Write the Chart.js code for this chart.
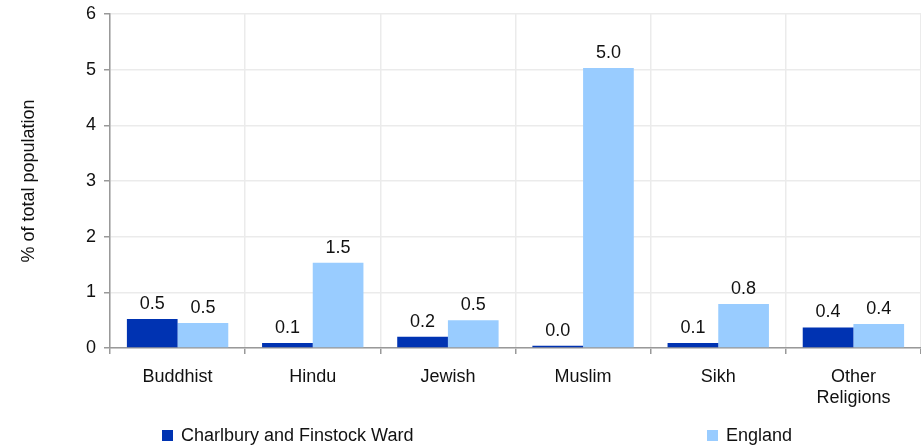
<!DOCTYPE html>
<html>
<head>
<meta charset="utf-8">
<script src="https://cdn.jsdelivr.net/npm/chart.js@4/dist/chart.umd.min.js"></script>
<style>
html,body{margin:0;padding:0;background:#fff;}
#wrap{width:921px;height:447px;position:relative;}
</style>
</head>
<body>
<div id="wrap"><canvas id="c" width="921" height="447"></canvas></div>
<script>
const categories = ["Buddhist", "Hindu", "Jewish", "Muslim", "Sikh", ["Other", "Religions"]];
const wardLabel = "Charlbury and Finstock Ward";
const englandLabel = "England";
const wardValues = [0.52, 0.09, 0.20, 0.04, 0.09, 0.37];
const englandValues = [0.45, 1.53, 0.50, 5.03, 0.79, 0.43];
const yTicks = [0, 1, 2, 3, 4, 5, 6];
const yTitle = "% of total population";

const FONT = "'Liberation Sans', Arial, sans-serif";
const FS = 18;

const valueLabels = {
  id: 'valueLabels',
  afterDatasetsDraw(chart) {
    const ctx = chart.ctx;
    ctx.save();
    ctx.font = FS + "px " + FONT;
    ctx.fillStyle = "#111111";
    ctx.textAlign = "center";
    ctx.textBaseline = "middle";
    chart.data.datasets.forEach((ds, i) => {
      const meta = chart.getDatasetMeta(i);
      meta.data.forEach((bar, j) => {
        ctx.fillText(ds.data[j].toFixed(1), bar.x, bar.y - 15);
      });
    });
    ctx.restore();
  }
};

const customLegend = {
  id: 'customLegend',
  afterDraw(chart) {
    const ctx = chart.ctx;
    const xs = [162, 707];
    ctx.save();
    ctx.font = FS + "px " + FONT;
    ctx.textBaseline = "middle";
    ctx.textAlign = "left";
    chart.data.datasets.forEach((ds, i) => {
      const x = xs[i], y = 435.5;
      ctx.fillStyle = ds.backgroundColor;
      ctx.fillRect(x, y - 5.5, 11, 11);
      ctx.fillStyle = "#111111";
      ctx.fillText(ds.label, x + 19, y + 0.5);
    });
    ctx.restore();
  }
};

new Chart(document.getElementById('c'), {
  type: 'bar',
  data: {
    labels: categories,
    datasets: [
      { label: wardLabel, data: wardValues, backgroundColor: '#0033b2', borderWidth: 0 },
      { label: englandLabel, data: englandValues, backgroundColor: '#99ccff', borderWidth: 0 }
    ]
  },
  options: {
    responsive: false,
    animation: false,
    devicePixelRatio: 1,
    layout: { padding: { top: 14, right: 0, bottom: 0, left: 0 } },
    datasets: { bar: { categoryPercentage: 0.75, barPercentage: 1.0 } },
    plugins: {
      legend: { display: false },
      tooltip: { enabled: false }
    },
    scales: {
      x: {
        grid: { color: '#ebebeb', lineWidth: 1.5, tickLength: 6, tickColor: '#999999', tickWidth: 1.5, offset: true },
        border: { color: '#999999', width: 1.5 },
        ticks: { color: '#111111', font: { family: FONT, size: FS, lineHeight: 1.15 }, padding: 13, maxRotation: 0 },
        afterFit(scale) { scale.height = 99; scale.paddingLeft = 0; scale.paddingRight = 0; }
      },
      y: {
        min: 0, max: 6,
        afterBuildTicks(scale) { scale.ticks = yTicks.map(v => ({ value: v })); },
        grid: { color: '#ebebeb', lineWidth: 1.5, tickLength: 6, tickColor: '#999999', tickWidth: 1.5 },
        border: { color: '#999999', width: 1.5 },
        ticks: { color: '#111111', font: { family: FONT, size: FS }, padding: 8 },
        title: { display: true, text: yTitle, color: '#111111', font: { family: FONT, size: FS }, padding: { top: 18, bottom: 0 } },
        afterFit(scale) { scale.width = 110; scale.paddingTop = 0; scale.paddingBottom = 0; }
      }
    }
  },
  plugins: [valueLabels, customLegend]
});
</script>
</body>
</html>
